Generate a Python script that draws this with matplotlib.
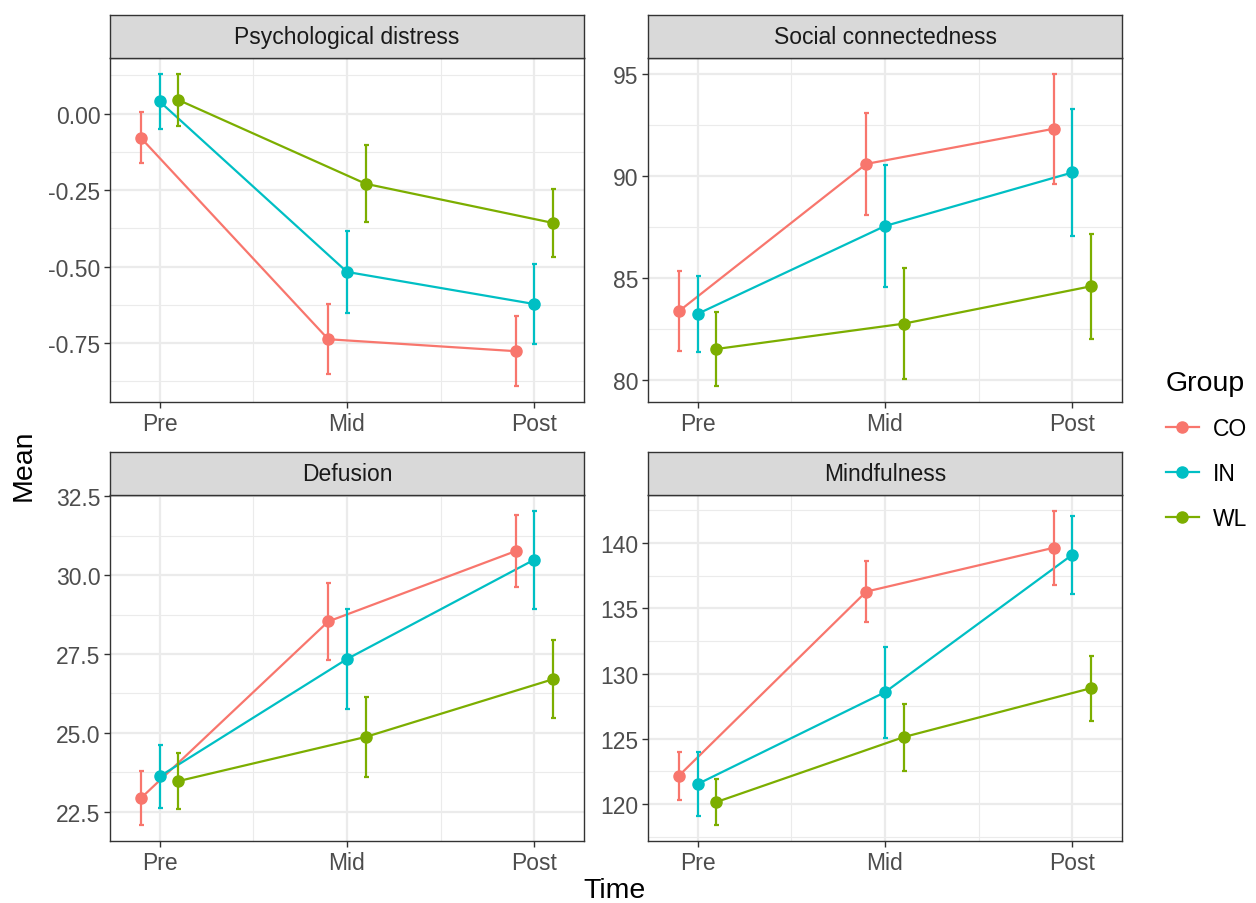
import matplotlib
matplotlib.use("Agg")
import matplotlib.pyplot as plt
from matplotlib.lines import Line2D
import numpy as np

plt.rcParams['font.family'] = ['Liberation Sans', 'DejaVu Sans']

times = ["Pre", "Mid", "Post"]
groups = ["CO", "IN", "WL"]
colors = ["#F8766D", "#00BFC4", "#7CAE00"]
measures = ["Psychological distress", "Social connectedness", "Defusion", "Mindfulness"]

# Means and standard errors: rows = groups (CO, IN, WL), columns = times
psych_mean = [[-0.079, -0.737, -0.776], [0.040, -0.517, -0.622], [0.045, -0.229, -0.357]]
psych_se = [[0.083, 0.114, 0.115], [0.091, 0.135, 0.132], [0.084, 0.126, 0.111]]
social_mean = [[83.39, 90.60, 92.32], [83.26, 87.56, 90.18], [81.54, 82.78, 84.61]]
social_se = [[1.97, 2.50, 2.70], [1.85, 3.00, 3.10], [1.83, 2.72, 2.56]]
defusion_mean = [[22.93, 28.53, 30.76], [23.62, 27.34, 30.49], [23.47, 24.87, 26.70]]
defusion_se = [[0.86, 1.21, 1.15], [1.00, 1.58, 1.55], [0.90, 1.28, 1.24]]
mindful_mean = [[122.17, 136.28, 139.64], [121.53, 128.57, 139.11], [120.15, 125.13, 128.88]]
mindful_se = [[1.85, 2.36, 2.84], [2.43, 3.50, 3.00], [1.78, 2.57, 2.50]]

yticks = [[-0.75, -0.50, -0.25, 0.00], [80, 85, 90, 95], [22.5, 25.0, 27.5, 30.0, 32.5], [120, 125, 130, 135, 140]]
yfmt = ["{:.2f}", "{:.0f}", "{:.1f}", "{:.0f}"]

means = [psych_mean, social_mean, defusion_mean, mindful_mean]
ses = [psych_se, social_se, defusion_se, mindful_se]

W, H = 1256, 904
fig = plt.figure(figsize=(W / 100, H / 100), dpi=100)

# pixel layout (left, right, top, bottom)
boxes = [(110, 584, 59, 403), (648, 1122, 59, 403), (110, 584, 496, 842), (648, 1122, 496, 842)]
strip_h = 43
dodge = [-0.1, 0.0, 0.1]
grey20 = "#333333"
TICK = 16.5
TITLE = 20.5

for k, (l, r, t, b) in enumerate(boxes):
    ax = fig.add_axes([l / W, 1 - b / H, (r - l) / W, (b - t) / H])
    m = np.array(means[k]); s = np.array(ses[k])
    xs = np.arange(1, 4)
    for g in range(3):
        xg = xs + dodge[g]
        ax.plot(xg, m[g], color=colors[g], lw=1.6, zorder=3)
        ax.errorbar(xg, m[g], yerr=s[g], fmt='o', color=colors[g], ms=8,
                    elinewidth=1.6, capsize=1.8, capthick=1.6, zorder=4)
    yt = yticks[k]
    ax.set_yticks(yt)
    ax.set_yticklabels([yfmt[k].format(v) for v in yt])
    step = yt[1] - yt[0]
    minors = [v + step / 2 for v in [yt[0] - step] + list(yt)]
    ax.set_yticks(minors, minor=True)
    ax.set_xticks(xs)
    ax.set_xticklabels(times)
    ax.set_xticks([1.5, 2.5], minor=True)
    lo = (m - s).min(); hi = (m + s).max()
    pad = (hi - lo) * 0.05
    ax.set_ylim(lo - pad, hi + pad)
    ax.set_xlim(0.735, 3.265)
    ax.grid(True, which='major', color='#EBEBEB', lw=1.6, zorder=0)
    ax.grid(True, which='minor', color='#EBEBEB', lw=0.8, zorder=0)
    ax.set_axisbelow(True)
    ax.tick_params(which='minor', length=0)
    ax.tick_params(which='major', length=4, width=1.0, color=grey20, labelsize=TICK,
                   labelcolor='#4D4D4D', pad=3)
    for sp in ax.spines.values():
        sp.set_color(grey20)
        sp.set_linewidth(1.0)
    # strip
    sax = fig.add_axes([l / W, 1 - t / H, (r - l) / W, strip_h / H])
    sax.set_xticks([]); sax.set_yticks([])
    sax.set_facecolor('#D9D9D9')
    for sp in sax.spines.values():
        sp.set_color(grey20)
        sp.set_linewidth(1.0)
    sax.text(0.5, 0.5, measures[k], ha='center', va='center', fontsize=TICK, color='#1A1A1A',
             transform=sax.transAxes)

fig.text(24 / W, 1 - 465 / H, "Mean", rotation=90, ha='center', va='center', fontsize=TITLE)
fig.text(615 / W, 1 - 891 / H, "Time", ha='center', va='center', fontsize=TITLE)

handles = [Line2D([0], [0], color=c, lw=1.6, marker='o', ms=8) for c in colors]
leg = fig.legend(handles, groups, title="Group", loc='upper left',
                 bbox_to_anchor=(1145 / W, 1 - 350 / H), frameon=False, fontsize=TICK,
                 title_fontsize=TITLE, labelspacing=0.95, handlelength=1.45, handletextpad=0.6,
                 alignment='left')

fig.savefig("out.png", dpi=100)
